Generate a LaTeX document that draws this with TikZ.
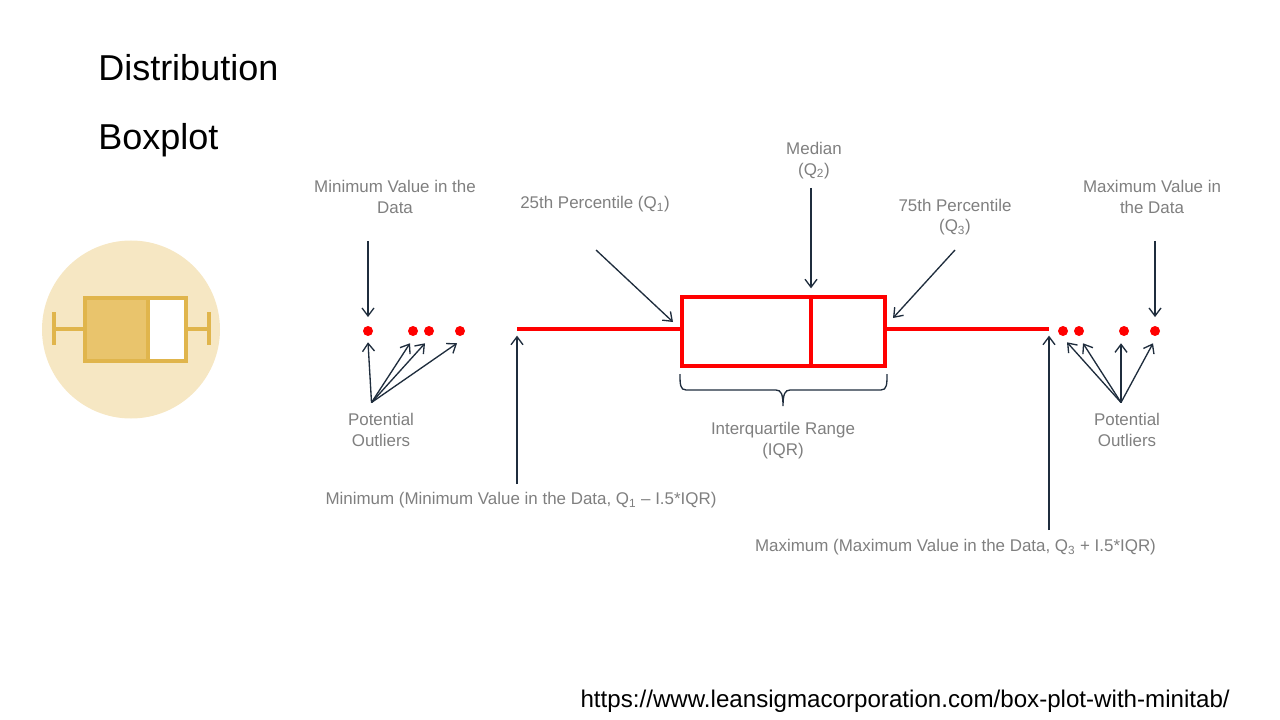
\documentclass[tikz,border=0pt]{standalone}
\usepackage{fontspec}
\setmainfont{Liberation Sans}
\usetikzlibrary{arrows.meta}
\definecolor{labelgrey}{HTML}{7F7F7F}
\definecolor{arrowink}{HTML}{1F2D3D}
\definecolor{iconpale}{HTML}{F6E7C3}
\definecolor{iconfill}{HTML}{E9C46C}
\definecolor{iconline}{HTML}{E0B54C}
\tikzset{
	heading/.style={anchor=west,inner sep=0pt,font=\fontsize{27}{32}\selectfont},
	greylabel/.style={text=labelgrey,align=center,inner sep=0pt,font=\fontsize{12.7}{15.4}\selectfont},
	callout/.style={draw=arrowink,line width=1pt,-{Straight Barb[length=6pt,width=9pt]}},
	outlier/.style={circle,fill=red,inner sep=0pt,minimum size=7.5pt},
	redline/.style={draw=red,line width=2.8pt},
	iconline/.style={draw=iconline,line width=2.6pt}
}
\begin{document}
\begin{tikzpicture}[x=.75pt,y=-.75pt]
	\useasboundingbox (0,0) rectangle (1280,720);
	\node[heading] (title) at (98,68) {Distribution};
	\node[heading] (subtitle) at (98,140) {Boxplot};
	\node[anchor=east,inner sep=0pt,font=\fontsize{18.1}{21}\selectfont] (source) at (1230,701.5) {https://www.leansigmacorporation.com/box-plot-with-minitab/};
	% icon
	\node[circle,fill=iconpale,inner sep=0pt,minimum size=133.5pt] (badge) at (131,329.5) {};
	\fill[iconfill] (85,298) rectangle (148,361);
	\fill[white] (148,298) rectangle (186,361);
	\draw[iconline] (85,298) rectangle (186,361) (148,298)--(148,361);
	\draw[iconline] (54,312)--(54,345) (54,329)--(85,329) (186,329)--(209,329) (209,312)--(209,345);
	% box and whiskers
	\node[redline,minimum width=152pt,minimum height=52pt,inner sep=0pt] (box) at (783.5,331.5) {};
	\coordinate (whiskL) at (517,329);
	\coordinate (whiskR) at (1049,329);
	\coordinate (medTop) at (811,297);
	\coordinate (medBot) at (811,366);
	\draw[redline] (whiskL)--(whiskL-|box.west) (whiskR-|box.east)--(whiskR) (medTop)--(medBot);
	\foreach \nm/\px in {dotLa/368,dotLb/413,dotLc/429,dotLd/460,dotRa/1063,dotRb/1079,dotRc/1124,dotRd/1155}
		\node[outlier] (\nm) at (\px,331) {};
	% labels
	\node[greylabel] (minval) at (395,197) {Minimum Value in the\\Data};
	\node[greylabel] (qone) at (595,204) {25th Percentile (Q\textsubscript{1})};
	\node[greylabel] (median) at (814,160.5) {Median\\(Q\textsubscript{2})};
	\node[greylabel] (qthree) at (955,217) {75th Percentile\\(Q\textsubscript{3})};
	\node[greylabel] (maxval) at (1152,197) {Maximum Value in\\the Data};
	\node[greylabel] (outL) at (381,430) {Potential\\Outliers};
	\node[greylabel] (outR) at (1127,430) {Potential\\Outliers};
	\node[greylabel] (iqr) at (783,440.5) {Interquartile Range\\(IQR)};
	\node[greylabel] (minimum) at (521,500.5) {Minimum (Minimum Value in the Data, Q\textsubscript{1} -- I.5*IQR)};
	\node[greylabel] (maximum) at (955.5,547.5) {Maximum (Maximum Value in the Data, Q\textsubscript{3} + I.5*IQR)};
	% arrows
	\coordinate (minvalTail) at (368,241);
	\coordinate (maxvalTail) at (1155,241);
	\coordinate (qoneTail) at (596,250);
	\coordinate (qthreeTail) at (955,250);
	\coordinate (medianTail) at (811,188);
	\coordinate (minimumTail) at (517,484);
	\coordinate (maximumTail) at (1049,530);
	\coordinate (hubL) at (371.5,402.5);
	\coordinate (hubR) at (1121,402.5);
	\draw[callout,shorten >=6.5pt] (minvalTail)--(dotLa);
	\draw[callout,shorten >=6.5pt] (maxvalTail)--(dotRd);
	\draw[callout] (qoneTail)--(673,322);
	\draw[callout] (qthreeTail)--(893,318);
	\draw[callout] (medianTail)--([yshift=6.5pt]medTop);
	\draw[callout,shorten >=5pt] (minimumTail)--(whiskL);
	\draw[callout,shorten >=5pt] (maximumTail)--(whiskR);
	\foreach \nm/\dx/\dy in {dotLa/0/6,dotLb/-3/7,dotLc/-4/7,dotLd/-3/7}
		\draw[callout] (hubL)--([shift={(\dx,\dy)}]\nm.south);
	\foreach \nm/\dx/\dy in {dotRa/4/6,dotRb/4/7,dotRc/-3/7,dotRd/-2/7}
		\draw[callout] (hubR)--([shift={(\dx,\dy)}]\nm.south);
	% brace
	\draw[arrowink,line width=1pt]
	(680,374)..controls (680,384) and (680,390)..(686,390)
	--(776,390)..controls (781,390) and (783,394)..(783,406)
	(783,406)..controls (783,394) and (785,390)..(790,390)
	--(881,390)..controls (887,390) and (887,384)..(887,374);
\end{tikzpicture}
\end{document}
